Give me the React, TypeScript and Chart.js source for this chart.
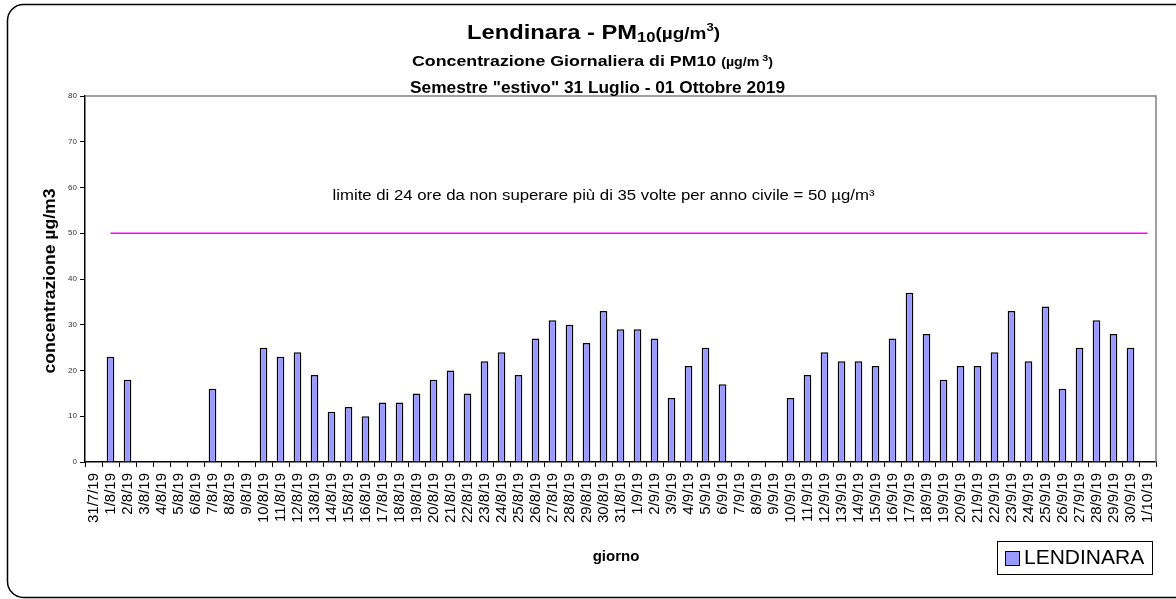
import React, { useEffect, useRef } from "react";
import { Chart, registerables } from "chart.js";

Chart.register(...registerables);

const categories: string[] = [
  "31/7/19", "1/8/19", "2/8/19", "3/8/19", "4/8/19", "5/8/19", "6/8/19", "7/8/19", "8/8/19", "9/8/19",
  "10/8/19", "11/8/19", "12/8/19", "13/8/19", "14/8/19", "15/8/19", "16/8/19", "17/8/19", "18/8/19", "19/8/19",
  "20/8/19", "21/8/19", "22/8/19", "23/8/19", "24/8/19", "25/8/19", "26/8/19", "27/8/19", "28/8/19", "29/8/19",
  "30/8/19", "31/8/19", "1/9/19", "2/9/19", "3/9/19", "4/9/19", "5/9/19", "6/9/19", "7/9/19", "8/9/19",
  "9/9/19", "10/9/19", "11/9/19", "12/9/19", "13/9/19", "14/9/19", "15/9/19", "16/9/19", "17/9/19", "18/9/19",
  "19/9/19", "20/9/19", "21/9/19", "22/9/19", "23/9/19", "24/9/19", "25/9/19", "26/9/19", "27/9/19", "28/9/19",
  "29/9/19", "30/9/19", "1/10/19",
];

const lendinara: (number | null)[] = [
  null, 23, 18, null, null, null, null, 16, null, null,
  25, 23, 24, 19, 11, 12, 10, 13, 13, 15,
  18, 20, 15, 22, 24, 19, 27, 31, 30, 26,
  33, 29, 29, 27, 14, 21, 25, 17, null, null,
  null, 14, 19, 24, 22, 22, 21, 27, 37, 28,
  18, 21, 21, 24, 33, 22, 34, 16, 25, 31,
  28, 25, null,
];

const limitValue = 50;
const limitSeries: (number | null)[] = categories.map((_, i) => (i === 0 ? null : limitValue));

const yTicks: number[] = [0, 10, 20, 30, 40, 50, 60, 70, 80];

const titleText = "Lendinara - PM";
const subtitle1 = "Concentrazione Giornaliera di PM10 ";
const subtitle2 = 'Semestre "estivo" 31 Luglio - 01 Ottobre 2019';
const limitLabel = "limite di 24 ore da non superare più di 35 volte per anno civile = 50 µg/m³";
const yTitle = "concentrazione µg/m3";
const xTitle = "giorno";
const seriesName = "LENDINARA";

const FONT = '"Liberation Sans", Arial, Helvetica, sans-serif';

type Run = { text: string; size: number; bold?: boolean; dy?: number };

function drawRuns(ctx: CanvasRenderingContext2D, runs: Run[], cx: number, baseline: number, target?: number) {
  let total = 0;
  const widths = runs.map((r) => {
    ctx.font = `${r.bold ? "bold " : ""}${r.size}px ${FONT}`;
    const w = ctx.measureText(r.text).width;
    total += w;
    return w;
  });
  const sx = target ? target / total : 1;
  ctx.save();
  ctx.translate(cx - (total * sx) / 2, baseline);
  ctx.scale(sx, 1);
  let x = 0;
  ctx.textAlign = "left";
  ctx.textBaseline = "alphabetic";
  runs.forEach((r, i) => {
    ctx.font = `${r.bold ? "bold " : ""}${r.size}px ${FONT}`;
    ctx.fillText(r.text, x, r.dy || 0);
    x += widths[i];
  });
  ctx.restore();
}

const decorPlugin = {
  id: "decor",
  beforeDraw(chart: any) {
    const ctx: CanvasRenderingContext2D = chart.ctx;
    ctx.save();
    ctx.fillStyle = "#ffffff";
    ctx.fillRect(0, 0, chart.width, chart.height);
    ctx.strokeStyle = "#000000";
    ctx.lineWidth = 1.5;
    ctx.beginPath();
    (ctx as any).roundRect(7.5, 4.5, 1185, 593, 16);
    ctx.stroke();
    ctx.restore();
  },
  afterDraw(chart: any) {
    const ctx: CanvasRenderingContext2D = chart.ctx;
    const area = chart.chartArea;
    const xs = chart.scales.x;
    const ys = chart.scales.y;
    ctx.save();
    // plot area top/right border
    ctx.strokeStyle = "#808080";
    ctx.lineWidth = 1.5;
    ctx.beginPath();
    ctx.moveTo(area.left, area.top);
    ctx.lineTo(area.right, area.top);
    ctx.lineTo(area.right, area.bottom);
    ctx.stroke();

    ctx.fillStyle = "#000000";
    // titles
    drawRuns(ctx, [
      { text: titleText, size: 20, bold: true },
      { text: "10", size: 14, bold: true, dy: 3 },
      { text: "(µg/m", size: 16, bold: true },
      { text: "3", size: 11, bold: true, dy: -8 },
      { text: ")", size: 16, bold: true },
    ], 593.5, 39, 253);
    drawRuns(ctx, [
      { text: subtitle1, size: 15, bold: true },
      { text: "(µg/m", size: 12, bold: true },
      { text: " 3", size: 9, bold: true, dy: -5 },
      { text: ")", size: 12, bold: true },
    ], 592.5, 66, 361);
    drawRuns(ctx, [{ text: subtitle2, size: 16, bold: true }], 597.5, 93, 375);

    // limit annotation
    ctx.font = `14px ${FONT}`;
    drawRuns(ctx, [{ text: limitLabel, size: 14 }], xs.getPixelForValue(30), ys.getPixelForValue(57.2), 542);

    // y title
    ctx.save();
    ctx.translate(51, (area.top + area.bottom) / 2 + 2);
    ctx.rotate(-Math.PI / 2);
    ctx.font = `bold 16px ${FONT}`;
    const yw = ctx.measureText(yTitle).width;
    ctx.scale(185 / yw, 1);
    ctx.textAlign = "center";
    ctx.textBaseline = "middle";
    ctx.fillText(yTitle, 0, 0);
    ctx.restore();

    // x title
    ctx.font = `bold 15px ${FONT}`;
    ctx.textAlign = "center";
    ctx.textBaseline = "middle";
    ctx.fillText(xTitle, 616, 557);

    // legend
    const lx = 997, ly = 541, lw = 155, lh = 33;
    ctx.fillStyle = "#ffffff";
    ctx.fillRect(lx, ly, lw, lh);
    ctx.strokeStyle = "#000000";
    ctx.lineWidth = 1;
    ctx.strokeRect(lx + 0.5, ly + 0.5, lw, lh);
    ctx.fillStyle = "#9999FF";
    ctx.fillRect(lx + 8, ly + 10, 14, 14);
    ctx.strokeRect(lx + 8.5, ly + 10.5, 14, 14);
    ctx.fillStyle = "#000000";
    ctx.font = `21px ${FONT}`;
    ctx.textAlign = "left";
    ctx.textBaseline = "middle";
    ctx.fillText(seriesName, lx + 27, ly + lh / 2 + 1);
    ctx.restore();
  },
};

export default function App() {
  const ref = useRef<HTMLCanvasElement | null>(null);
  useEffect(() => {
    if (!ref.current) return;
    const chart = new Chart(ref.current, {
      type: "bar",
      data: {
        labels: categories,
        datasets: [
          {
            type: "bar",
            label: seriesName,
            data: lendinara,
            backgroundColor: "#9999FF",
            borderColor: "#000000",
            borderWidth: 1.5,
            barPercentage: 0.45,
            categoryPercentage: 1,
            order: 2,
          },
          {
            type: "line",
            label: "limite",
            data: limitSeries,
            borderColor: "#FF00FF",
            borderWidth: 1.5,
            pointRadius: 0,
            fill: false,
            order: 1,
          } as any,
        ],
      },
      options: {
        responsive: false,
        animation: false,
        maintainAspectRatio: false,
        layout: { padding: { top: 96, right: 20, left: 0, bottom: 0 } },
        plugins: {
          legend: { display: false },
          title: { display: false },
          tooltip: { enabled: false },
        },
        scales: {
          x: {
            offset: true,
            grid: {
              offset: true,
              drawOnChartArea: false,
              tickLength: 5,
              color: "#000000",
              lineWidth: 1,
            },
            border: { display: true, color: "#000000", width: 1.5 },
            ticks: {
              autoSkip: false,
              minRotation: 90,
              maxRotation: 90,
              padding: 6,
              color: "#000000",
              font: { family: FONT, size: 15 },
            },
            afterFit: (scale: any) => {
              scale.height = 137;
            },
          },
          y: {
            min: 0,
            max: 80,
            afterBuildTicks: (scale: any) => {
              scale.ticks = yTicks.map((v) => ({ value: v }));
            },
            grid: {
              drawOnChartArea: false,
              tickLength: 5,
              color: "#000000",
            },
            border: { display: true, color: "#000000", width: 1.5 },
            ticks: {
              padding: 3,
              color: "#333333",
              font: { family: FONT, size: 8 },
            },
            afterFit: (scale: any) => {
              scale.width = 85;
            },
          },
        },
      },
      plugins: [decorPlugin],
    });
    return () => chart.destroy();
  }, []);
  return (
    <div style={{ position: "absolute", left: 0, top: 0, width: 1176, height: 599 }}>
      <canvas ref={ref} width={1176} height={599} style={{ display: "block", width: 1176, height: 599 }} />
    </div>
  );
}
